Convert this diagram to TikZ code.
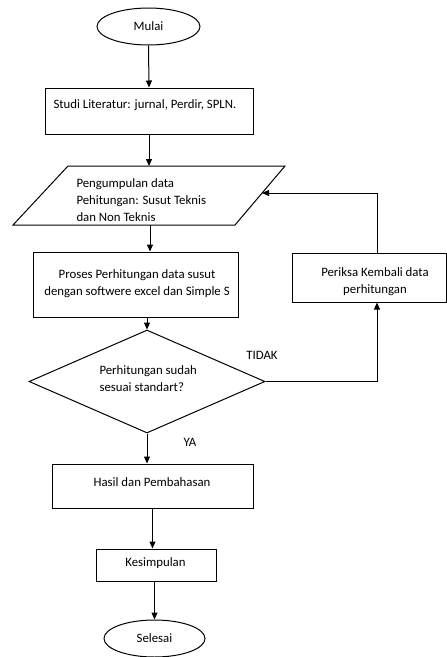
\documentclass[tikz,border=0pt]{standalone}
\usepackage{fontspec}
\setmainfont{Carlito}
\usetikzlibrary{shapes.geometric,arrows.meta}
\begin{document}
\begin{tikzpicture}[x=1pt,y=-1pt,line width=1pt,
  arr/.style={-{Triangle[length=7pt,width=6pt]}},
  box/.style={draw,rectangle,inner sep=0pt},
  oval/.style={draw,ellipse,inner sep=0pt},
  txt/.style={inner sep=0pt,font=\fontsize{12.8}{17}\selectfont}]
\useasboundingbox (0,0) rectangle (447,657);
% start
\node[oval,minimum width=103pt,minimum height=37pt,txt] (mulai) at (148.5,26.5) {Mulai};
% studi
\node[box,minimum width=208pt,minimum height=46pt] (studi) at (149,111) {};
\node[txt,anchor=west] (studitxt) at (53,105) {Studi Literatur: jurnal, Perdir, SPLN.};
% parallelogram
\coordinate (ptl) at (68,166);
\coordinate (ptr) at (285,166);
\coordinate (pbr) at (235,225);
\coordinate (pbl) at (13,225);
\coordinate (ptop) at (149,166);
\coordinate (pbot) at (150,225);
\coordinate (prin) at (262,193);
\draw (ptl) -- (ptr) -- (pbr) -- (pbl) -- cycle;
\node[txt,anchor=west,align=left] (pengtxt) at (76,200) {Pengumpulan data\\Pehitungan: Susut Teknis\\dan Non Teknis};
% proses
\node[box,minimum width=205pt,minimum height=65pt] (proses) at (135.5,284.5) {};
\node[txt,align=center] (prosestxt) at (137,283.5) {Proses Perhitungan data susut\\dengan softwere excel dan Simple S};
% decision
\node[draw,diamond,minimum width=236pt,minimum height=103pt,inner sep=0pt] (dec) at (147,381.5) {};
\node[txt,anchor=west,align=left] (dectxt) at (99,378.5) {Perhitungan sudah\\sesuai standart?};
% periksa
\node[box,minimum width=154pt,minimum height=49pt] (periksa) at (369,277.5) {};
\node[txt,align=center] (periksatxt) at (375,281.5) {Periksa Kembali data\\perhitungan};
\coordinate (pkin) at ([xshift=8pt]periksa.south);
\coordinate (pkout) at ([xshift=8pt]periksa.north);
% hasil
\node[box,minimum width=201pt,minimum height=44pt] (hasil) at (152.5,486) {};
\node[txt] (hasiltxt) at (152,482) {Hasil dan Pembahasan};
% kesimpulan
\node[box,minimum width=120pt,minimum height=32pt] (kes) at (156,565) {};
\node[txt] (kestxt) at (155.5,563) {Kesimpulan};
% selesai
\node[oval,minimum width=101pt,minimum height=37pt,txt] (sel) at (154.5,638.5) {Selesai};
% labels
\node[txt] (tidak) at (262,355) {TIDAK};
\node[txt] (ya) at (190,442) {YA};
% connectors
\draw[arr] (mulai.south) -- (studi.north);
\draw[arr] (studi.south) -- (ptop);
\draw[arr] (pbot) -- (pbot |- proses.north);
\draw[arr] (proses.south -| dec.north) -- (dec.north);
\draw[arr] (dec.south) -- (dec.south |- hasil.north);
\draw[arr] (dec.east) -| (pkin);
\draw[arr] (pkout) |- (prin);
\draw[arr] (hasil.south) -- (hasil.south |- kes.north);
\draw[arr] (sel.north |- kes.south) -- (sel.north);
\end{tikzpicture}
\end{document}
